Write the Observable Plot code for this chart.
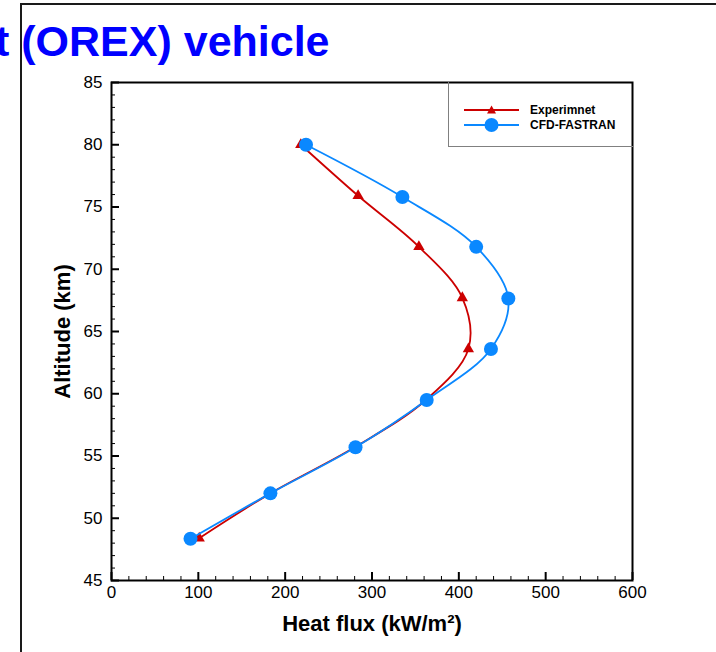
<!DOCTYPE html>
<html>
<head>
<meta charset="utf-8">
<script src="https://cdn.jsdelivr.net/npm/d3@7"></script>
<script src="https://cdn.jsdelivr.net/npm/@observablehq/plot@0.6"></script>
<style>
  html, body { margin: 0; padding: 0; background: #fff; }
  body { width: 716px; height: 652px; overflow: hidden; position: relative; font-family: Arial, "Liberation Sans", sans-serif; }
  #chart { position: absolute; left: 0; top: 0; }
  #frame { position: absolute; left: 20px; top: 3px; right: -5px; bottom: -5px; border-left: 2px solid #1a1a1a; border-top: 2px solid #1a1a1a; }
  #title { position: absolute; left: -5px; top: 20px; font: bold 43px/42px Arial, "Liberation Sans", sans-serif; color: #0000ff; white-space: nowrap; }
  #legend { position: absolute; left: 448px; top: 82px; width: 184px; height: 64px; border-left: 1px solid #808080; border-bottom: 1px solid #808080; }
  #legend .row { position: absolute; left: 0; height: 14px; display: flex; align-items: center; }
  #legend .row span { font: bold 12px Arial, "Liberation Sans", sans-serif; color: #000; margin-left: 10px; }
</style>
</head>
<body>
<div id="chart"></div>
<div id="frame"></div>
<div id="title">t (OREX) vehicle</div>
<div id="legend"></div>
<script>
// Data
const seriesNames = ["Experimnet", "CFD-FASTRAN"];
const seriesColors = ["#cc0000", "#0a88ff"];
const expAltitude = [80, 75.9, 71.8, 67.7, 63.6, 59.5, 55.7, 52.0, 48.4];
const expFlux     = [218, 284, 354, 404, 411, 362, 280, 183, 101];
const cfdAltitude = [80, 75.8, 71.8, 67.65, 63.6, 59.5, 55.7, 52.0, 48.35];
const cfdFlux     = [224, 335, 420, 457, 437, 363, 281, 183, 91];
const xTicks = [0, 100, 200, 300, 400, 500, 600];
const yTicks = [45, 50, 55, 60, 65, 70, 75, 80, 85];
const xMinorTicks = d3.range(0, 601, 20).filter(v => v % 100 !== 0);
const yMinorTicks = d3.range(45, 86, 1).filter(v => v % 5 !== 0);
const xLabel = "Heat flux (kW/m²)";
const yLabel = "Altitude (km)";

const expData = expFlux.map((f, i) => ({flux: f, alt: expAltitude[i]}));
const cfdData = cfdFlux.map((f, i) => ({flux: f, alt: cfdAltitude[i]}));

const font = "Arial, 'Liberation Sans', sans-serif";

const chart = Plot.plot({
  width: 716,
  height: 652,
  marginLeft: 111,
  marginRight: 84,
  marginTop: 82,
  marginBottom: 72,
  style: {fontFamily: font, fontSize: "17px", color: "#000", background: "transparent"},
  x: {domain: [0, 600]},
  y: {domain: [45, 85]},
  marks: [
    Plot.axisX({ticks: xTicks, tickSize: -8, tickPadding: 13, strokeWidth: 2, label: null, fontSize: 17}),
    Plot.axisX({ticks: xMinorTicks, tickSize: -4, tickFormat: () => "", strokeWidth: 1, label: null}),
    Plot.axisY({ticks: yTicks, tickSize: -8, tickPadding: 17, strokeWidth: 2, label: null, fontSize: 17}),
    Plot.axisY({ticks: yMinorTicks, tickSize: -4, tickFormat: () => "", strokeWidth: 1, label: null}),
    Plot.line(expData, {x: "flux", y: "alt", stroke: seriesColors[0], strokeWidth: 1.8, curve: "catmull-rom"}),
    Plot.dot(expData, {x: "flux", y: "alt", symbol: "triangle", r: 4.2, fill: seriesColors[0], stroke: "none"}),
    Plot.line(cfdData, {x: "flux", y: "alt", stroke: seriesColors[1], strokeWidth: 1.8, curve: "catmull-rom"}),
    Plot.dot(cfdData, {x: "flux", y: "alt", r: 7, fill: seriesColors[1], stroke: "none"}),
    Plot.frame({stroke: "#000", strokeWidth: 2}),
    Plot.text([xLabel], {frameAnchor: "bottom", dy: 50, fontSize: 22, fontWeight: "bold", fill: "#000"}),
    Plot.text([yLabel], {frameAnchor: "left", textAnchor: "middle", dx: -49, rotate: -90, fontSize: 22, fontWeight: "bold", fill: "#000"})
  ]
});
document.getElementById("chart").appendChild(chart);

// Legend
const legend = document.getElementById("legend");
const rowTops = [21, 36];
seriesNames.forEach((name, i) => {
  const row = document.createElement("div");
  row.className = "row";
  row.style.top = rowTops[i] + "px";
  row.style.left = "15px";
  const sym = i === 0
    ? `<path d="M27.5,2.5 L32,10.5 L23,10.5 Z" fill="${seriesColors[i]}"/>`
    : `<circle cx="27.5" cy="7" r="7" fill="${seriesColors[i]}"/>`;
  row.innerHTML = `<svg width="56" height="14" style="overflow:visible"><line x1="0" x2="55" y1="7" y2="7" stroke="${seriesColors[i]}" stroke-width="2"/>${sym}</svg><span>${name}</span>`;
  legend.appendChild(row);
});
</script>
</body>
</html>
